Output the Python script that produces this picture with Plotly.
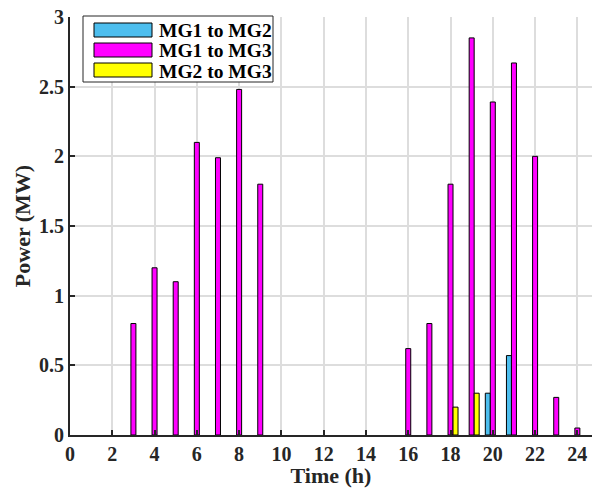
import plotly.graph_objects as go

hours = list(range(1, 25))
series_names = ["MG1 to MG2", "MG1 to MG3", "MG2 to MG3"]
series_colors = ["#4DBEEE", "#FF00FF", "#FFFF00"]
mg1_to_mg2 = [0, 0, 0, 0, 0, 0, 0, 0, 0, 0, 0, 0, 0, 0, 0, 0, 0, 0, 0, 0.30, 0.57, 0, 0, 0]
mg1_to_mg3 = [0, 0, 0.80, 1.20, 1.10, 2.10, 1.99, 2.48, 1.80, 0, 0, 0, 0, 0, 0, 0.62, 0.80, 1.80, 2.85, 2.39, 2.67, 2.00, 0.27, 0.05]
mg2_to_mg3 = [0, 0, 0, 0, 0, 0, 0, 0, 0, 0, 0, 0, 0, 0, 0, 0, 0, 0.20, 0.30, 0, 0, 0, 0, 0]
series_values = [mg1_to_mg2, mg1_to_mg3, mg2_to_mg3]
x_ticks = list(range(0, 25, 2))
y_ticks = [0, 0.5, 1, 1.5, 2, 2.5, 3]
y_tick_labels = ["0", "0.5", "1", "1.5", "2", "2.5", "3"]

W, H = 592, 488
ML, MR, MT, MB = 70, 0, 17, 53
PW, PH = W - ML - MR, H - MT - MB
FONT = "Liberation Serif"
AX = "#262626"

fig = go.Figure()
for name, color, vals in zip(series_names, series_colors, series_values):
    fig.add_trace(go.Bar(
        x=hours, y=[v if v else None for v in vals], name=name,
        marker=dict(color=color, line=dict(color="#000000", width=1)),
        showlegend=False,
    ))

def px(x):
    return (x - ML) / PW

def py(y):
    return (MT + PH - y) / PH

shapes = []
annotations = []
# legend box
shapes.append(dict(type="rect", xref="paper", yref="paper",
                   x0=px(83), x1=px(273), y0=py(82), y1=py(16),
                   line=dict(color=AX, width=1), fillcolor="white", layer="above"))
for i, (name, color) in enumerate(zip(series_names, series_colors)):
    cy = 30 + 20 * i
    shapes.append(dict(type="rect", xref="paper", yref="paper",
                       x0=px(94), x1=px(152), y0=py(cy + 7), y1=py(cy - 7),
                       line=dict(color="#000000", width=1), fillcolor=color, layer="above"))
    annotations.append(dict(xref="paper", yref="paper", x=px(157), y=py(cy + 1),
                            text=name, showarrow=False, xanchor="left", yanchor="middle",
                            font=dict(family=FONT, size=19.5, color="#000000", weight="bold")))

fig.update_layout(
    width=W, height=H,
    margin=dict(l=ML, r=MR, t=MT, b=MB, pad=0),
    paper_bgcolor="white", plot_bgcolor="white",
    barmode="group", bargap=0.29, bargroupgap=0,
    font=dict(family=FONT, size=20, color=AX, weight="bold"),
    shapes=shapes, annotations=annotations,
    showlegend=False,
)
fig.update_xaxes(
    range=[0, PW / 21.14], tickvals=x_ticks, ticks="inside", ticklen=5, tickwidth=1.5,
    tickcolor=AX, showline=True, linecolor=AX, linewidth=2,
    showgrid=True, gridcolor="#dddddd", gridwidth=1.5, zeroline=False,
    tickfont=dict(family=FONT, size=20, color=AX, weight="bold"),
    title=dict(text="Time (h)", standoff=2,
               font=dict(family=FONT, size=22, color=AX, weight="bold")),
)
fig.update_yaxes(
    range=[0, 3], tickvals=y_ticks, ticktext=y_tick_labels, ticks="inside", ticklen=5, tickwidth=1.5,
    tickcolor=AX, showline=True, linecolor=AX, linewidth=2,
    showgrid=True, gridcolor="#dddddd", gridwidth=1.5, zeroline=False,
    tickfont=dict(family=FONT, size=20, color=AX, weight="bold"),
    title=dict(text="Power (MW)", standoff=2,
               font=dict(family=FONT, size=22, color=AX, weight="bold")),
)

fig.write_html("out.html")
